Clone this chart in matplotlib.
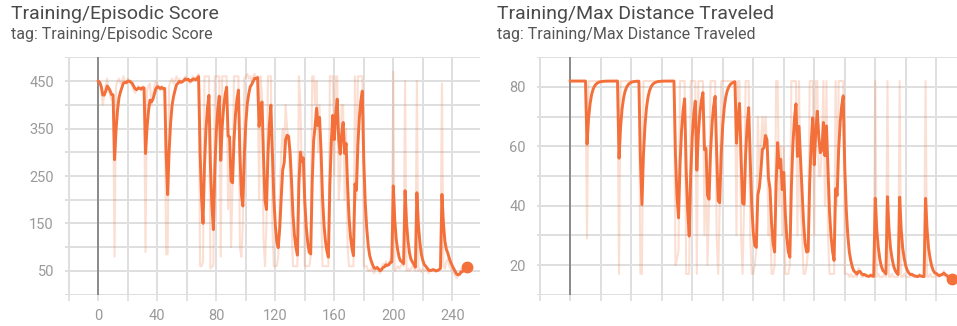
import numpy as np
import pandas as pd
import matplotlib
matplotlib.use("Agg")
import matplotlib.pyplot as plt

plt.rcParams['font.family'] = ['Roboto', 'DejaVu Sans']

# raw per-episode values (episodes 0..250)
score_raw = [
    450, 445, 430, 400, 420, 440, 455, 430, 420, 410,
    420, 80, 440, 450, 455, 445, 450, 460, 450, 445,
    455, 450, 445, 440, 430, 425, 430, 440, 435, 430,
    440, 435, 90, 430, 440, 445, 400, 420, 440, 450,
    445, 435, 430, 440, 430, 435, 85, 85, 440, 450,
    455, 445, 450, 460, 450, 455, 445, 450, 455, 460,
    450, 455, 445, 450, 460, 455, 450, 460, 465, 60,
    60, 70, 460, 460, 460, 460, 55, 60, 60, 460,
    460, 460, 460, 80, 460, 460, 460, 460, 180, 330,
    100, 230, 460, 460, 460, 460, 100, 80, 150, 455,
    460, 465, 455, 460, 450, 460, 465, 455, 460, 200,
    460, 420, 120, 60, 150, 460, 460, 460, 150, 60,
    60, 60, 80, 200, 300, 350, 300, 400, 350, 330,
    250, 150, 60, 60, 60, 60, 460, 400, 250, 300,
    60, 60, 60, 60, 80, 460, 460, 400, 450, 300,
    400, 200, 60, 60, 60, 60, 60, 460, 460, 460,
    250, 460, 460, 200, 250, 400, 400, 200, 350, 100,
    60, 60, 60, 60, 460, 200, 460, 460, 460, 460,
    60, 60, 60, 50, 50, 55, 50, 45, 55, 60,
    50, 45, 55, 65, 60, 70, 60, 65, 75, 70,
    470, 50, 55, 60, 55, 60, 65, 60, 450, 50,
    55, 50, 55, 60, 55, 50, 450, 50, 55, 48,
    52, 50, 55, 50, 45, 50, 52, 55, 50, 48,
    52, 55, 60, 445, 60, 55, 70, 75, 60, 55,
    50, 45, 40, 35, 40, 45, 55, 50, 60, 65,
    60,
]

distance_raw = [
    82, 82, 82, 82, 82, 82, 82, 82, 82, 82,
    82, 29, 82, 82, 82, 82, 82, 82, 82, 82,
    82, 82, 82, 82, 82, 82, 82, 82, 82, 82,
    82, 82, 17, 82, 82, 82, 82, 82, 82, 82,
    82, 82, 82, 82, 82, 82, 17, 17, 82, 82,
    82, 82, 82, 82, 82, 82, 82, 82, 82, 82,
    82, 82, 82, 82, 82, 82, 82, 82, 82, 20,
    22, 25, 82, 82, 82, 82, 17, 17, 17, 82,
    82, 82, 82, 17, 82, 82, 82, 82, 30, 60,
    20, 40, 82, 82, 82, 82, 30, 17, 40, 82,
    82, 82, 82, 82, 82, 82, 82, 82, 82, 30,
    82, 82, 30, 17, 40, 82, 82, 82, 30, 17,
    17, 20, 25, 70, 50, 60, 70, 60, 70, 60,
    30, 40, 17, 17, 20, 82, 82, 40, 60, 30,
    60, 17, 17, 17, 20, 82, 82, 82, 82, 30,
    82, 40, 30, 17, 17, 20, 25, 82, 82, 82,
    30, 82, 82, 50, 50, 60, 82, 40, 82, 30,
    17, 17, 17, 17, 82, 40, 82, 82, 82, 82,
    17, 17, 17, 16, 17, 16, 16, 17, 16, 19,
    18, 16, 16, 17, 16, 16, 16, 17, 16, 16,
    82, 16, 17, 16, 16, 16, 17, 16, 82, 16,
    16, 17, 16, 16, 16, 16, 82, 16, 16, 17,
    16, 16, 16, 16, 17, 16, 16, 16, 16, 17,
    16, 16, 16, 82, 16, 16, 17, 16, 16, 16,
    17, 16, 16, 17, 17, 18, 16, 16, 15, 15,
    15,
]

episodes = np.arange(len(score_raw))
SMOOTHING = 0.6

score_ticks = [50, 150, 250, 350, 450]
distance_ticks = [20, 40, 60, 80]
step_labels = [0, 40, 80, 120, 160, 200, 240]

ORANGE = '#f4703a'
GRID = '#dfdfdf'
TEXT = '#9a9a9a'


def draw_panel(ax, raw, xlim, ylim, grid_step, labelled, show_xlabels):
    smooth = pd.Series(raw).ewm(alpha=1 - SMOOTHING).mean()
    ax.plot(episodes, raw, color=ORANGE, alpha=0.22, lw=1.5, zorder=3)
    ax.plot(episodes, smooth, color=ORANGE, lw=2.1, zorder=4)
    ax.plot(episodes[-1], smooth.iloc[-1], 'o', color=ORANGE, ms=7.5,
            zorder=5, clip_on=False)

    ax.set_xlim(*xlim)
    ax.set_ylim(*ylim)

    ygrid = list(range(ylim[0], ylim[1] + 1, grid_step))
    ax.set_yticks(ygrid)
    ax.set_yticklabels([str(v) if v in labelled else '' for v in ygrid])
    xgrid = list(range(-20, int(xlim[1]) + 1, 20))
    ax.set_xticks(xgrid)
    if show_xlabels:
        ax.set_xticklabels([str(v) if v in step_labels else '' for v in xgrid])
    else:
        ax.set_xticklabels([])

    ax.grid(True, color=GRID, lw=1.4, zorder=0)
    ax.axvline(0, color='#8a8a8a', lw=1.4, zorder=2)
    for s in ax.spines.values():
        s.set_visible(False)
    ax.tick_params(axis='y', length=0, pad=8, labelsize=10.5, labelcolor=TEXT)
    ax.tick_params(axis='x', length=4, width=1.3, color=GRID, pad=6,
                   labelsize=10.5, labelcolor=TEXT)


fig = plt.figure(figsize=(9.57, 3.26), dpi=100)
bottom = 1 - 294.7 / 326
height = 237.4 / 326
ax1 = fig.add_axes([65 / 957, bottom, 415 / 957, height])
ax2 = fig.add_axes([537 / 957, bottom, 420 / 957, height])

draw_panel(ax1, score_raw, (-22.6, 258.8), (0, 500), 50, score_ticks, True)
draw_panel(ax2, distance_raw, (-21.8, 253.6), (10, 90), 10, distance_ticks, False)

for x, name in [(11, 'Training/Episodic Score'), (497, 'Training/Max Distance Traveled')]:
    fig.text(x / 957, 1 - 14 / 326, name, fontsize=14, color='#4a4a4a', va='center')
    fig.text(x / 957, 1 - 34 / 326, 'tag: ' + name, fontsize=11.5, color='#555555', va='center')

fig.savefig('out.png', dpi=100)
